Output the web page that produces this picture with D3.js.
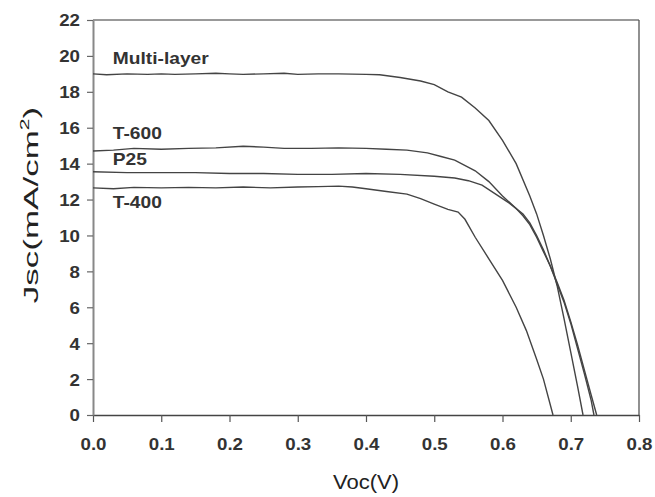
<!DOCTYPE html>
<html>
<head>
<meta charset="utf-8">
<script src="https://cdn.jsdelivr.net/npm/d3@7"></script>
<style>
body { margin: 0; background: #fff; }
text { font-family: "Liberation Sans", Arial, sans-serif; fill: #222; }
</style>
</head>
<body>
<div id="chart"></div>
<script>
// J-V curves
var xTicks = [0, 0.1, 0.2, 0.3, 0.4, 0.5, 0.6, 0.7, 0.8];
var yTicks = [0, 2, 4, 6, 8, 10, 12, 14, 16, 18, 20, 22];

var multiV = [0, 0.02, 0.05, 0.08, 0.1, 0.12, 0.15, 0.18, 0.2, 0.22, 0.25, 0.28, 0.3, 0.33, 0.36, 0.4, 0.42, 0.45, 0.48, 0.5, 0.52, 0.54, 0.56, 0.58, 0.6, 0.62, 0.64, 0.65, 0.66, 0.67, 0.68, 0.69, 0.7, 0.71, 0.718];
var multiJ = [19.0, 18.95, 19.0, 18.97, 19.0, 18.97, 19.0, 19.03, 19.0, 18.97, 19.0, 19.03, 18.97, 19.0, 19.0, 18.97, 18.95, 18.8, 18.6, 18.4, 18.0, 17.7, 17.1, 16.4, 15.3, 14.0, 12.2, 11.2, 10.0, 8.7, 7.2, 5.4, 3.5, 1.6, 0];

var t600V = [0, 0.03, 0.06, 0.1, 0.14, 0.18, 0.22, 0.25, 0.28, 0.32, 0.36, 0.4, 0.43, 0.46, 0.49, 0.51, 0.53, 0.56, 0.58, 0.6, 0.62, 0.63, 0.64, 0.65, 0.66, 0.67, 0.68, 0.69, 0.7, 0.71, 0.72, 0.73, 0.738];
var t600J = [14.7, 14.75, 14.85, 14.8, 14.85, 14.88, 14.97, 14.92, 14.85, 14.85, 14.88, 14.85, 14.8, 14.75, 14.6, 14.4, 14.2, 13.6, 13.0, 12.2, 11.5, 11.1, 10.6, 9.9, 9.1, 8.3, 7.4, 6.4, 5.2, 3.9, 2.5, 1.1, 0];

var p25V = [0, 0.05, 0.1, 0.15, 0.2, 0.25, 0.3, 0.35, 0.4, 0.45, 0.5, 0.53, 0.55, 0.57, 0.59, 0.61, 0.63, 0.64, 0.65, 0.66, 0.67, 0.68, 0.69, 0.7, 0.71, 0.72, 0.73, 0.734];
var p25J = [13.55, 13.5, 13.5, 13.5, 13.45, 13.45, 13.4, 13.4, 13.45, 13.4, 13.3, 13.2, 13.05, 12.8, 12.3, 11.8, 11.2, 10.7, 10.0, 9.2, 8.3, 7.3, 6.3, 5.1, 3.7, 2.3, 0.8, 0];

var t400V = [0, 0.03, 0.06, 0.1, 0.14, 0.18, 0.22, 0.26, 0.3, 0.33, 0.36, 0.38, 0.4, 0.43, 0.46, 0.48, 0.5, 0.52, 0.535, 0.545, 0.56, 0.58, 0.6, 0.62, 0.635, 0.65, 0.66, 0.674];
var t400J = [12.65, 12.6, 12.68, 12.65, 12.68, 12.65, 12.7, 12.65, 12.7, 12.72, 12.75, 12.7, 12.6, 12.45, 12.3, 12.05, 11.75, 11.45, 11.3, 10.9, 9.9, 8.7, 7.5, 6.0, 4.7, 3.1, 2.0, 0];

var curveNames = ["Multi-layer", "T-600", "P25", "T-400"];
var labelJ = [19.55, 15.35, 13.95, 11.55]; // label baselines, in data units

var width = 655, height = 497;
var margin = {left: 93, right: 16, top: 20, bottom: 82};

var svg = d3.select("#chart").append("svg")
    .attr("width", width)
    .attr("height", height);

var x = d3.scaleLinear().domain([0, 0.8]).range([margin.left, width - margin.right]);
var y = d3.scaleLinear().domain([0, 22]).range([height - margin.bottom, margin.top]);

// frame (top and right sides have no ticks)
svg.append("line")
    .attr("x1", x(0)).attr("x2", x(0.8))
    .attr("y1", y(22)).attr("y2", y(22))
    .attr("stroke", "#777").attr("stroke-width", 1.6);
svg.append("line")
    .attr("x1", x(0.8)).attr("x2", x(0.8))
    .attr("y1", y(22)).attr("y2", y(0))
    .attr("stroke", "#555").attr("stroke-width", 1.3);

var xAxis = svg.append("g")
    .attr("transform", "translate(0," + y(0) + ")")
    .call(d3.axisBottom(x).tickValues(xTicks).tickFormat(d3.format(".1f")).tickSize(7).tickSizeOuter(0));
var yAxis = svg.append("g")
    .attr("transform", "translate(" + x(0) + ",0)")
    .call(d3.axisLeft(y).tickValues(yTicks).tickSize(6).tickSizeOuter(0));

xAxis.select(".domain").attr("stroke", "#444").attr("stroke-width", 1.4);
yAxis.select(".domain").attr("stroke", "#888").attr("stroke-width", 2);
xAxis.selectAll(".tick line").attr("stroke", "#555").attr("stroke-width", 1.2);
yAxis.selectAll(".tick line").attr("stroke", "#666").attr("stroke-width", 1.2);

xAxis.selectAll(".tick text")
    .attr("font-size", 17)
    .attr("font-weight", "bold")
    .style("fill", "#333")
    .attr("y", 0)
    .attr("dy", 0)
    .attr("transform", "translate(0,35) scale(1.1,1)");
yAxis.selectAll(".tick text")
    .attr("font-size", 17)
    .attr("font-weight", "bold")
    .style("fill", "#333")
    .attr("x", 0)
    .attr("dy", "0.35em")
    .attr("transform", "translate(-13,0) scale(1.1,1)");

// curves
var line = d3.line()
    .x(function (d) { return x(d[0]); })
    .y(function (d) { return y(d[1]); });

var series = [
    d3.zip(multiV, multiJ),
    d3.zip(t600V, t600J),
    d3.zip(p25V, p25J),
    d3.zip(t400V, t400J)
];

svg.append("g").selectAll("path")
    .data(series)
    .enter()
    .append("path")
    .attr("fill", "none")
    .attr("stroke", "#444")
    .attr("stroke-width", 1.4)
    .attr("d", line);

svg.append("g").selectAll("text")
    .data(curveNames)
    .enter()
    .append("text")
    .attr("font-size", 16)
    .attr("font-weight", "bold")
    .style("fill", "#333")
    .attr("transform", function (d, i) {
        return "translate(" + x(0.029) + "," + y(labelJ[i]) + ") scale(1.2,1)";
    })
    .text(function (d) { return d; });

// axis titles
svg.append("text")
    .attr("font-size", 20)
    .attr("text-anchor", "middle")
    .attr("transform", "translate(" + x(0.4) + ",489) scale(1.1,1)")
    .text("Voc(V)");

var yTitle = svg.append("text")
    .attr("font-size", 20)
    .attr("text-anchor", "middle")
    .attr("transform", "translate(38,205) rotate(-90) scale(1.75,1)");
yTitle.append("tspan").text("Jsc(mA/cm");
yTitle.append("tspan").attr("font-size", 12).attr("dy", -9).text("2");
yTitle.append("tspan").attr("dy", 9).text(")");
</script>
</body>
</html>
